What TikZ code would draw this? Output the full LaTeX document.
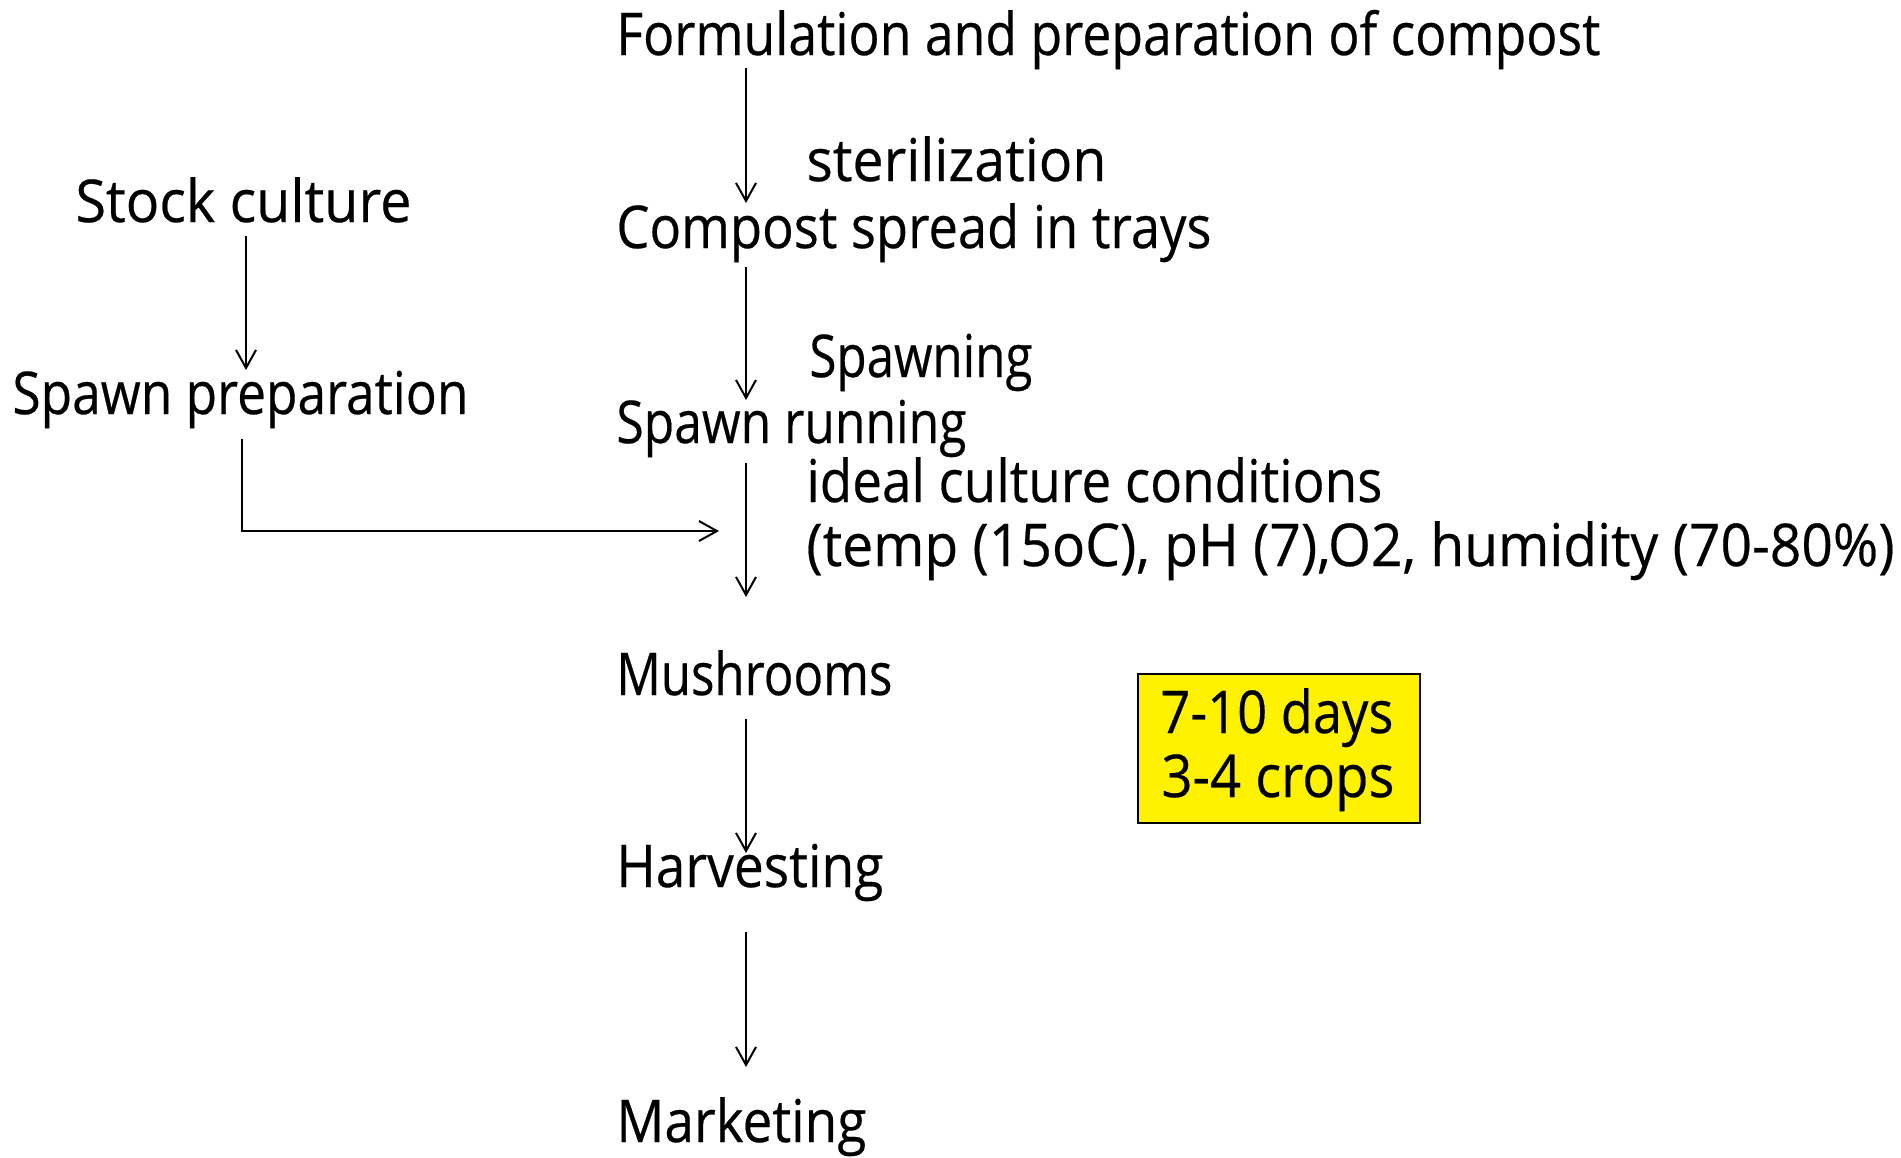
\documentclass[tikz,border=0pt]{standalone}
\usepackage{fontspec}
\setmainfont{Open Sans}[FakeBold=0.4]
\usetikzlibrary{arrows.meta,calc}
\newcommand{\fw}[2]{\resizebox{#1}{\height}{#2}}
\begin{document}
\begin{tikzpicture}[x=0.5pt,y=-0.5pt,
  lbl/.style={anchor=base west,inner sep=0pt,font=\fontsize{29.5pt}{35pt}\selectfont},
  arr/.style={draw=black,line width=1pt,-{Straight Barb[length=9pt,width=10pt,line width=1pt]}},
  notebox/.style={draw=black,fill=yellow,line width=0.8pt,inner sep=0pt,minimum width=141pt,minimum height=74.5pt}]
\useasboundingbox (0,0) rectangle (1901,1157);
% main column
\node[lbl] (form) at (616,55) {\fw{492pt}{Formulation and preparation of compost}};
\node[lbl] (steril) at (806,181) {\fw{150pt}{sterilization}};
\node[lbl] (spread) at (616,248) {\fw{297.5pt}{Compost spread in trays}};
\node[lbl] (spawning) at (809,377) {\fw{111.5pt}{Spawning}};
\node[lbl] (running) at (616,443) {\fw{175pt}{Spawn running}};
\node[lbl] (ideal) at (806,502) {\fw{288pt}{ideal culture conditions}};
\node[lbl] (temp) at (806,566) {\fw{544pt}{(temp (15oC), pH (7),O2, humidity (70-80\%)}};
\node[lbl] (mush) at (616,695) {\fw{138pt}{Mushrooms}};
\node[lbl] (harv) at (616,887) {\fw{133.5pt}{Harvesting}};
\node[lbl] (mark) at (616,1142) {\fw{125pt}{Marketing}};
% left column
\node[lbl] (stock) at (75,222) {\fw{168pt}{Stock culture}};
\node[lbl] (prep) at (12,414) {\fw{228pt}{Spawn preparation}};
% note box
\node[notebox] (box) at (1279,748.5) {};
\node[lbl] (days) at (1160,733) {\fw{116.5pt}{7-10 days}};
\node[lbl] (crops) at (1161,797) {\fw{116.5pt}{3-4 crops}};
% connector columns
\coordinate (cx) at (746,0);
\coordinate (lx) at (246,0);
\coordinate (ex) at (242,0);
\coordinate (j) at (746,597);
\coordinate (m) at (719,531);
% arrows
\draw[arr] ($(form.base -| cx)+(0,13)$) -- ($(spread.base -| cx)+(0,-45)$);
\draw[arr] ($(spread.base -| cx)+(0,19)$) -- ($(running.base -| cx)+(0,-43)$);
\draw[arr] ($(running.base -| cx)+(0,20)$) -- (j);
\draw[arr] ($(prep.base -| ex)+(0,25)$) |- (m);
\draw[arr] ($(mush.base -| cx)+(0,24)$) -- ($(harv.base -| cx)+(0,-34)$);
\draw[arr] ($(harv.base -| cx)+(0,45)$) -- ($(mark.base -| cx)+(0,-75)$);
\draw[arr] ($(stock.base -| lx)+(0,14)$) -- ($(prep.base -| lx)+(0,-44)$);
\end{tikzpicture}
\end{document}
